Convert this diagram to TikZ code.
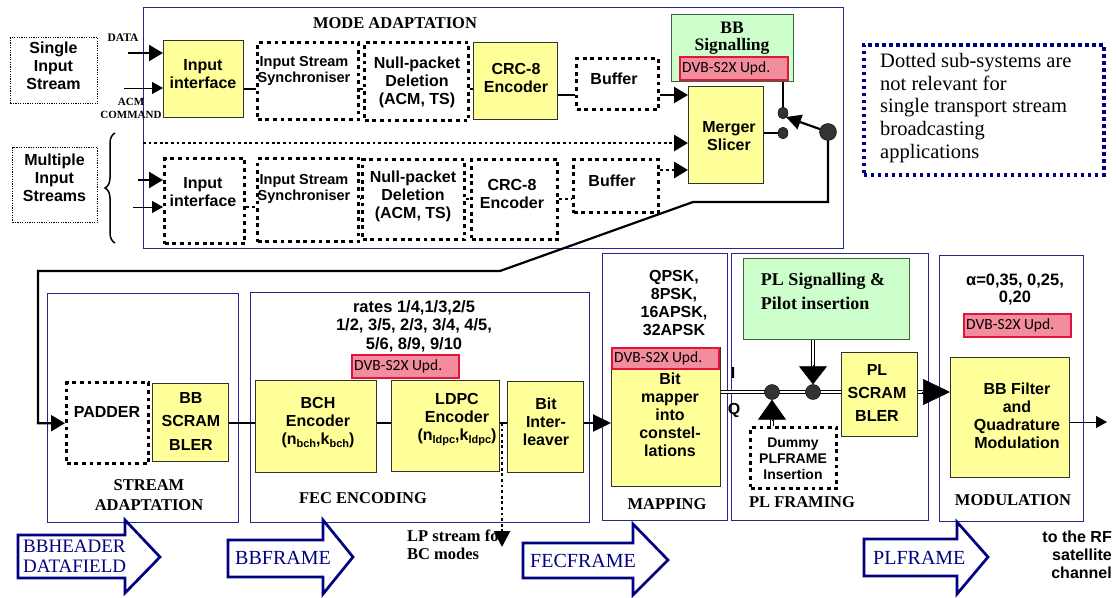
\documentclass[tikz,border=0pt]{standalone}
\usepackage{fontspec}
\setmainfont{Liberation Serif}
\newfontfamily\arfont{Liberation Sans}
\newfontfamily\cbfont{Carlito}
\usetikzlibrary{arrows.meta,calc,decorations.pathreplacing,shapes.geometric}
\definecolor{yel}{RGB}{255,255,153}
\definecolor{grn}{RGB}{204,255,204}
\definecolor{grnb}{RGB}{60,100,60}
\definecolor{redf}{RGB}{243,140,156}
\definecolor{redb}{RGB}{225,20,60}
\definecolor{secb}{RGB}{40,40,140}
\definecolor{navyc}{RGB}{0,0,128}
\definecolor{ybord}{RGB}{50,50,50}
\newcommand\sbs[1]{\raisebox{-3pt}{\fontsize{11}{11}\selectfont #1}}
\newcommand\bx[9][]{%
  \node[#2, anchor=north west, minimum width={#6-#4}, minimum height={#7-#5}] (#3) at (#4,#5) {};
  \node[boxtext, #1] (#3t) at #8 {#9};}
\begin{document}
\begin{tikzpicture}[x=1pt,y=-1pt,
  ybox/.style={fill=yel, draw=ybord, line width=1.4pt, inner sep=0pt},
  dbox/.style={draw=black, line width=3.4pt, dash pattern=on 3.8pt off 3.8pt, inner sep=0pt},
  fbox/.style={draw=black, line width=1.2pt, dash pattern=on 1.2pt off 1.2pt, inner sep=0pt},
  gbox/.style={fill=grn, draw=grnb, line width=1.2pt, inner sep=0pt},
  sec/.style={draw=secb, line width=1.1pt, inner sep=0pt},
  rbox/.style={fill=redf, draw=redb, line width=1.8pt, inner sep=0pt},
  rtxt/.style={font=\cbfont\fontsize{15.5}{17}\selectfont, inner sep=0pt, anchor=west},
  boxtext/.style={font=\arfont\bfseries\fontsize{16}{18}\selectfont, align=center, inner sep=0pt},
  seclbl/.style={font=\bfseries\fontsize{16.5}{20}\selectfont, align=center, inner sep=0pt},
  wire/.style={line width=2.2pt},
  thinwire/.style={line width=1pt},
  dwire/.style={line width=2.8pt, dash pattern=on 2.8pt off 2.8pt},
  bigarr/.style={-{Triangle[length=14pt,width=16pt]}},
  thinarr/.style={-{Triangle[length=11pt,width=12pt]}},
  dbl/.style={double, double distance=2.4pt, line width=0.9pt},
  hollow/.style={draw=navyc, line width=2.7pt, fill=white, line join=miter},
  hlbl/.style={font=\fontsize{20}{22}\selectfont, text=navyc, align=left, inner sep=0pt, anchor=west},
  dotn/.style={ellipse, fill=black!80, draw=black, inner sep=0pt},
  notebox/.style={draw=navyc, line width=3.5pt, dash pattern=on 3.5pt off 3.5pt, inner sep=0pt}]
\useasboundingbox (0,0) rectangle (1116,597);

% ---------------- MODE ADAPTATION ----------------
\node[sec, anchor=north west, minimum width=700, minimum height=241] (modead) at (143,7) {};
\node[seclbl] (modeadl) at (395,23) {MODE ADAPTATION};

\bx{fbox}{sis}{10}{37}{97}{103}{(53.5,66)}{Single\\Input\\Stream}
\bx{fbox}{mis}{12}{147}{97}{222}{(54.5,178)}{Multiple\\Input\\Streams}
\draw[decorate, decoration={brace, amplitude=10pt}, line width=1.5pt] (115,243) -- (115,133);

\node[font=\bfseries\fontsize{11.5}{12}\selectfont, inner sep=0pt] (datal) at (123,38) {DATA};
\node[font=\bfseries\fontsize{11}{13}\selectfont, align=center, inner sep=0pt] (acml) at (131,108) {ACM\\COMMAND};

% top row
\bx{ybox}{ii1}{163}{40}{243}{117}{(203,74)}{Input\\interface}
\bx[font=\arfont\bfseries\fontsize{14.5}{16}\selectfont]{dbox}{sy1}{256}{41}{357}{118}{(304,71)}{Input Stream\\Synchroniser}
\bx{dbox}{np1}{363}{41}{467}{119}{(417,82)}{Null-packet\\Deletion\\(ACM, TS)}
\bx{ybox}{crc1}{473}{42}{557}{119}{(516,78)}{CRC-8\\Encoder}
\bx{dbox}{bf1}{575}{57}{657}{108}{(614,79)}{Buffer}
\bx{ybox}{mg}{688}{86}{763}{183}{(729,136)}{Merger\\Slicer}
\bx[font=\bfseries\fontsize{17.5}{16.5}\selectfont]{gbox}{bbsig}{671}{14}{793}{81}{(732,38)}{BB\\Signalling}
\node[rbox, anchor=north west, minimum width=108, minimum height=23] (r1) at (679,56) {};
\node[rtxt] (r1t) at ([xshift=3pt]r1.west) {DVB-S2X Upd.};

% bottom row
\bx{dbox}{ii2}{163}{157}{243}{242}{(203,192)}{Input\\interface}
\bx[font=\arfont\bfseries\fontsize{14.5}{16}\selectfont]{dbox}{sy2}{256}{157}{357}{240}{(304,189)}{Input Stream\\Synchroniser}
\bx{dbox}{np2}{361}{158}{463}{238}{(413,196)}{Null-packet\\Deletion\\(ACM, TS)}
\bx{dbox}{crc2}{470}{158}{556}{238}{(512,194)}{CRC-8\\Encoder}
\bx{dbox}{bf2}{572}{158}{657}{211}{(612,181)}{Buffer}

% connectors mode adaptation
\coordinate (ra) at (0,89);
\coordinate (rb) at (0,95);
\coordinate (dA) at (128,53);
\coordinate (aA) at (124,88);
\coordinate (sepS) at (143,143);
\coordinate (rc) at (138,180);
\coordinate (rd) at (133,207);
\coordinate (rf) at (0,199);
\coordinate (rg) at (0,170);
\draw[line width=1.8pt] (ii1.east |- ra) -- (sy1.west |- ra);
\draw[line width=1.8pt] (sy1.east |- ra) -- (np1.west |- ra);
\draw[line width=1.8pt] (np1.east |- ra) -- (crc1.west |- ra);
\draw[line width=1.8pt] (crc1.east |- rb) -- (bf1.west |- rb);
\draw[wire, bigarr] (bf1.east |- rb) -- (mg.west |- rb);
\draw[wire, bigarr] (dA) -- (ii1.west |- dA);
\draw[thinwire, thinarr] (aA) -- (ii1.west |- aA);
\draw[dwire, bigarr] (sepS) -- (mg.west |- sepS);
\draw[wire, bigarr] (rc) -- (ii2.west |- rc);
\draw[thinwire, thinarr] (rd) -- (ii2.west |- rd);
\draw[dwire] (ii2.east |- rd) -- (sy2.west |- rd);
\draw[dwire] (sy2.east |- rf) -- (np2.west |- rf);
\draw[dwire] (np2.east |- rf) -- (crc2.west |- rf);
\draw[dwire] (crc2.east |- rf) -- (bf2.west |- rf);
\draw[dwire, bigarr] (bf2.east |- rg) -- (mg.west |- rg);

% switch
\node[dotn, minimum width=10, minimum height=12] (s1) at (783,113) {};
\node[dotn, minimum width=10, minimum height=12] (s2) at (783,133) {};
\node[dotn, circle, minimum size=17] (s3) at (828,132) {};
\coordinate (swt) at (786,117);
\draw[wire] (bbsig.south -| s1) -- (s1);
\draw[wire] (mg.east |- s2) -- (s2);
\draw[wire, -{Triangle[length=15pt,width=15pt]}] (s3) -- (swt);

% note
\node[notebox, anchor=north west, minimum width=240, minimum height=130] (note) at (862,43) {};
\node[font=\fontsize{20.5}{22.7}\selectfont, align=left, anchor=west, inner sep=0pt] (notet) at (880,108) {Dotted sub-systems are\\not relevant for\\single transport stream\\broadcasting\\applications};

% ---------------- lower chain ----------------
\node[sec, anchor=north west, minimum width=191, minimum height=229] (sa) at (47,293) {};
\node[sec, anchor=north west, minimum width=339, minimum height=230] (fec) at (250,292) {};
\node[sec, anchor=north west, minimum width=125, minimum height=267] (map) at (602,253) {};
\node[sec, anchor=north west, minimum width=197, minimum height=267] (plf) at (731,253) {};
\node[sec, anchor=north west, minimum width=144, minimum height=266] (mod) at (939,255) {};
\node[seclbl] (sal) at (149,495) {STREAM\\ADAPTATION};
\node[seclbl] (fecl) at (363,498) {FEC ENCODING};
\node[seclbl] (mapl) at (667,504) {MAPPING};
\node[seclbl] (plfl) at (802,502) {PL FRAMING};
\node[seclbl] (modl) at (1013,500) {MODULATION};

\bx{dbox}{pad}{65}{381}{147}{462}{(107,412)}{PADDER}
\bx[font=\arfont\bfseries\fontsize{16}{23.5}\selectfont]{ybox}{bbs}{152}{383}{228}{461}{(191,421)}{BB\\SCRAM\\BLER}
\bx{ybox}{bch}{255}{380}{376}{472}{(318,423)}{BCH\\Encoder\\(n\sbs{bch},k\sbs{bch})}
\bx{ybox}{ldpc}{391}{380}{499}{471}{(457,420)}{LDPC\\Encoder\\(n\sbs{ldpc},k\sbs{ldpc})}
\bx{ybox}{bil}{507}{381}{583}{472}{(546,422)}{Bit\\Inter-\\leaver}
\bx{ybox}{bmap}{611}{347}{720}{486}{(670,415)}{Bit\\mapper\\into\\constel-\\lations}
\bx[font=\arfont\bfseries\fontsize{14}{16}\selectfont]{dbox}{dum}{749}{426}{835}{487}{(793,459)}{Dummy\\PLFRAME\\Insertion}
\bx[font=\bfseries\fontsize{18}{24}\selectfont, align=left]{gbox}{plsig}{743}{258}{909}{339}{(823,291)}{PL Signalling \&\\Pilot insertion}
\bx[font=\arfont\bfseries\fontsize{16}{23}\selectfont]{ybox}{plscr}{841}{352}{917}{436}{(877,393)}{PL\\SCRAM\\BLER}
\bx{ybox}{bbf}{950}{357}{1069}{477}{(1017,416)}{BB Filter\\and\\Quadrature\\Modulation}

\node[rbox, anchor=north west, minimum width=107, minimum height=23] (r2) at (351,354) {};
\node[rtxt] (r2t) at ([xshift=3pt]r2.west) {DVB-S2X Upd.};
\node[rbox, anchor=north west, minimum width=107, minimum height=21] (r3) at (611,347) {};
\node[rtxt] (r3t) at ([xshift=3pt]r3.west) {DVB-S2X Upd.};
\node[rbox, anchor=north west, minimum width=107, minimum height=23] (r4) at (963,313) {};
\node[rtxt] (r4t) at ([xshift=3pt]r4.west) {DVB-S2X Upd.};

\node[boxtext, font=\arfont\bfseries\fontsize{16.5}{18.5}\selectfont] (rates) at (414,326) {rates 1/4,1/3,2/5\\1/2, 3/5, 2/3, 3/4, 4/5,\\5/6, 8/9, 9/10};
\node[boxtext, font=\arfont\bfseries\fontsize{16}{18.3}\selectfont] (mods) at (674,303) {QPSK,\\8PSK,\\16APSK,\\32APSK};
\node[boxtext, font=\arfont\bfseries\fontsize{16.5}{17}\selectfont] (alpha) at (1015,290) {α=0,35, 0,25,\\0,20};
\node[boxtext] (ilab) at (733,373) {I};
\node[boxtext] (qlab) at (734,410) {Q};
\node[boxtext, align=right, anchor=east] (rf) at (1112,555) {to the RF\\satellite\\channel};
\node[font=\bfseries\fontsize{16.5}{18}\selectfont, align=left, anchor=west, inner sep=0pt] (lp) at (407,545) {LP stream for\\BC modes};

% feed line from switch to padder
\coordinate (f1) at (828,202);
\coordinate (f2) at (693,202);
\coordinate (f3) at (500,271);
\coordinate (f4) at (38,271);
\draw[wire, bigarr, line join=miter] (s3) -- (f1) -- (f2) -- (f3) -- (f4) |- (pad.west);

% chain connectors
\coordinate (rowM) at (0,423);
\coordinate (rowIQ) at (0,392);
\draw[wire] (bbs.east |- rowM) -- (bch.west |- rowM);
\draw[wire] (bch.east |- rowM) -- (ldpc.west |- rowM);
\draw[wire] (ldpc.east |- rowM) -- (bil.west |- rowM);
\draw[wire, -{Triangle[length=18pt,width=17pt]}] (bil.east |- rowM) -- (bmap.west |- rowM);
\coordinate (lpS) at (502,423);
\coordinate (lpE) at (502,547);
\draw[dwire, -{Triangle[length=16pt,width=16pt]}] (lpS) -- (lpE);

\draw[dbl] (bmap.east |- rowIQ) -- (plscr.west |- rowIQ);
\node[dotn, circle, minimum size=15] (dot1) at (772,392) {};
\node[dotn, circle, minimum size=15] (dot2) at (813,392) {};
\draw[dbl] (plsig.south -| dot2) -- ($(dot2.north)+(0,-17)$);
\draw[-{Triangle[length=18pt,width=28pt]}, line width=0.5pt] ($(dot2.north)+(0,-19)$) -- (dot2.north);
\draw[dbl] (dum.north -| dot1) -- ($(dot1.south)+(0,19)$);
\draw[-{Triangle[length=20pt,width=28pt]}, line width=0.5pt] ($(dot1.south)+(0,21)$) -- (dot1.south);
\draw[dbl] (plscr.east |- rowIQ) -- ($(bbf.west |- rowIQ)+(-25,0)$);
\draw[-{Triangle[length=27pt,width=26pt]}, line width=0.5pt] ($(bbf.west |- rowIQ)+(-28,0)$) -- (bbf.west |- rowIQ);
\coordinate (outE) at (1107,422);
\draw[thinwire, thinarr] (bbf.east |- outE) -- (outE);

% hollow frame arrows
\draw[hollow] (18,535) -- (125,535) -- (125,520) -- (160,557) -- (125,593) -- (125,578) -- (18,578) -- cycle;
\node[hlbl, font=\fontsize{19}{20.5}\selectfont] (bbh) at (23,556) {BBHEADER\\DATAFIELD};
\draw[hollow] (228,540) -- (323,540) -- (323,520) -- (353,557) -- (323,594) -- (323,577) -- (228,577) -- cycle;
\node[hlbl] (bbfr) at (235,558) {BBFRAME};
\draw[hollow] (523,543) -- (633,543) -- (633,524) -- (668,560) -- (633,595) -- (633,578) -- (523,578) -- cycle;
\node[hlbl] (fecfr) at (530,561) {FECFRAME};
\draw[hollow] (864,539) -- (957,539) -- (957,522) -- (988,557) -- (957,594) -- (957,576) -- (864,576) -- cycle;
\node[hlbl] (plfr) at (873,558) {PLFRAME};
\end{tikzpicture}
\end{document}
